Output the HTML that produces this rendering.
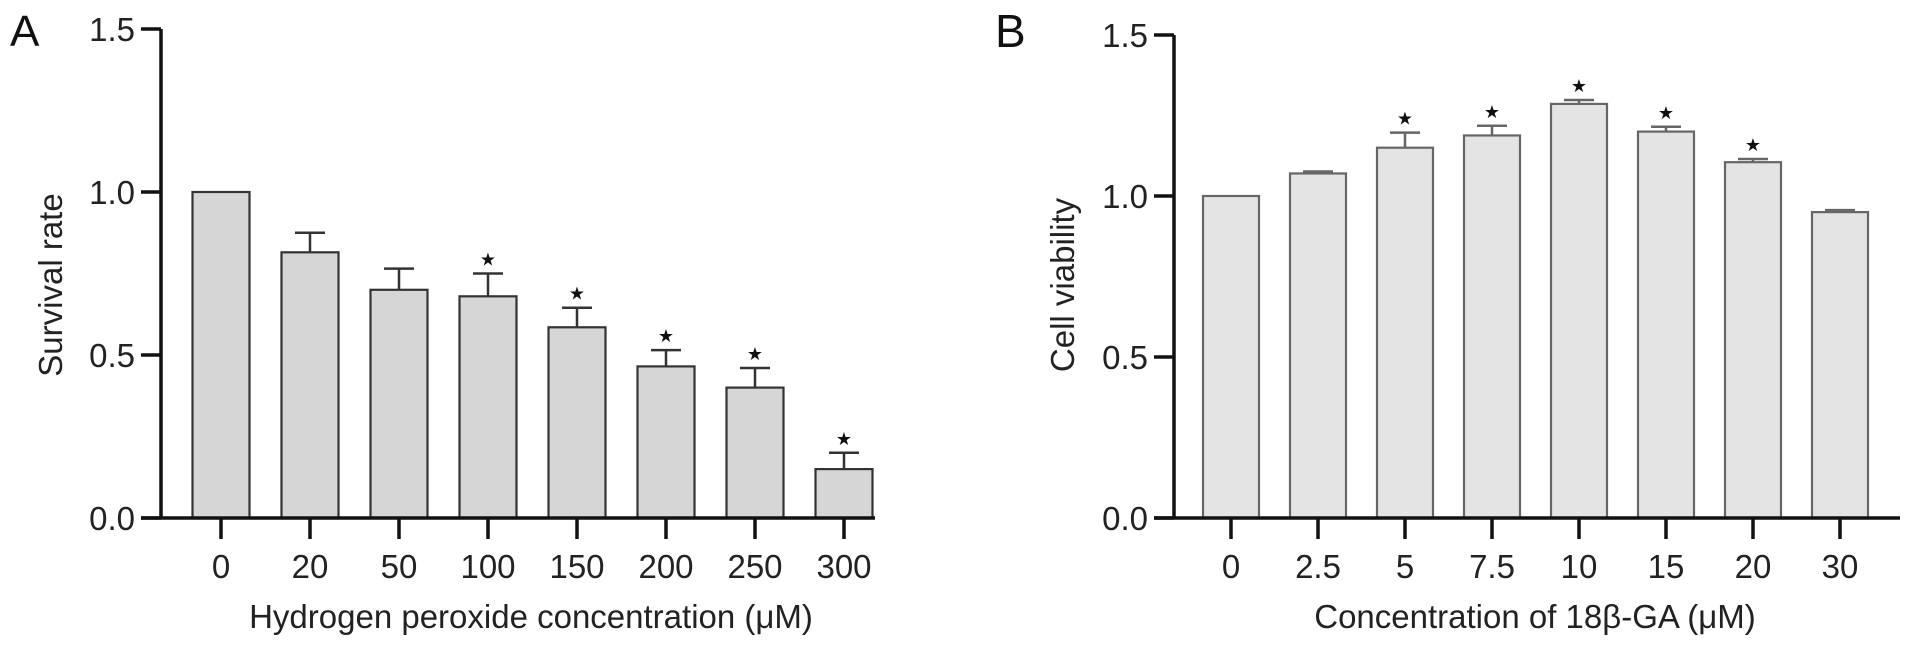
<!DOCTYPE html>
<html><head><meta charset="utf-8"><style>
html,body{margin:0;padding:0;background:#fff}
svg{display:block;font-family:"Liberation Sans",Arial,sans-serif}
</style></head><body>
<svg id="chart" width="1913" height="648" viewBox="0 0 1913 648" xmlns="http://www.w3.org/2000/svg">
<text x="10" y="46" font-size="44" fill="#111">A</text>
<text x="995" y="47" font-size="46" fill="#111">B</text>
<g id="pa"></g>
<g id="pb"></g>
</svg>
<script>
const catsA = ['0','20','50','100','150','200','250','300'];
const valsA = [1.0, 0.815, 0.70, 0.68, 0.585, 0.465, 0.40, 0.15];
const errA = [0, 0.06, 0.065, 0.07, 0.06, 0.05, 0.06, 0.05];
const sigA = [false,false,false,true,true,true,true,true];
const catsB = ['0','2.5','5','7.5','10','15','20','30'];
const valsB = [1.0, 1.07, 1.15, 1.188, 1.286, 1.20, 1.105, 0.95];
const errB = [0, 0.006, 0.047, 0.03, 0.012, 0.015, 0.01, 0.006];
const sigB = [false,false,true,true,true,true,true,false];
const yTicks = [0, 0.5, 1.0, 1.5];
const yTickLabels = ['0.0','0.5','1.0','1.5'];
const NS='http://www.w3.org/2000/svg';
function mk(p,t,a){const e=document.createElementNS(NS,t);for(const k in a)e.setAttribute(k,a[k]);p.appendChild(e);return e;}
function panel(g,cfg,cats,vals,errs,sig){
  const y=v=>cfg.base - v*cfg.scale;
  const x=i=>cfg.x0 + i*cfg.step;
  cats.forEach((c,i)=>{
    const cx=x(i), top=y(vals[i]);
    const r=mk(g,'rect',{x:cx-cfg.bw/2,y:top,width:cfg.bw,height:cfg.base-top,fill:cfg.fill,stroke:cfg.stroke,'stroke-width':2.2});
    
    
    if(errs[i]>0){
      const ye=y(vals[i]+errs[i]);
      const l=mk(g,'path',{d:`M${cx},${top} V${ye} M${cx-15},${ye} H${cx+15}`,stroke:cfg.stroke,'stroke-width':2.5,fill:'none'});
      
      
    }
    if(sig[i]){
      const s=mk(g,'text',{x:cx,y:y(vals[i]+errs[i])-8,'font-size':18,'text-anchor':'middle',fill:'#111'});
      s.textContent='★';
      
      
    }
    const t=mk(g,'path',{d:`M${cx},${cfg.base} V${cfg.base+21}`,stroke:'#111','stroke-width':3.5});
    
    
    const lb=mk(g,'text',{x:cx,y:cfg.base+60,'font-size':33,'text-anchor':'middle',fill:'#222'});
    lb.textContent=c;
    
    
  });
  yTicks.forEach((v,i)=>{
    const t=mk(g,'path',{d:`M${cfg.ax-20},${y(v)} H${cfg.ax}`,stroke:'#111','stroke-width':3.5});
    
    
    const lb=mk(g,'text',{x:cfg.ax-26,y:y(v)+12,'font-size':33,'text-anchor':'end',fill:'#222'});
    lb.textContent=yTickLabels[i];
    
    
  });
  const ya=mk(g,'path',{d:`M${cfg.ax},${y(1.5)} V${cfg.base}`,stroke:'#111','stroke-width':3.5});
  
  
  const xa=mk(g,'path',{d:`M${cfg.ax-20},${cfg.base} H${cfg.xend}`,stroke:'#111','stroke-width':3.5});
  
  
  const yt=mk(g,'text',{x:0,y:0,'font-size':33,'text-anchor':'middle',fill:'#222',transform:`translate(${cfg.ytx},285) rotate(-90)`});
  yt.textContent=cfg.ytitle;
  
  
  const xt=mk(g,'text',{x:cfg.xtx,y:628,'font-size':33,'text-anchor':'middle',fill:'#222'});
  xt.textContent=cfg.xtitle;
  
  
}
panel(document.getElementById('pa'),{base:518,scale:326,x0:221,step:89,bw:57,ax:161,xend:875,fill:'#d6d6d6',stroke:'#333',ytx:62,ytitle:'Survival rate',xtx:531,xtitle:'Hydrogen peroxide concentration (μM)'},catsA,valsA,errA,sigA);
panel(document.getElementById('pb'),{base:518,scale:322,x0:1231,step:87,bw:56,ax:1174,xend:1900,fill:'#e4e4e4',stroke:'#666',ytx:1074,ytitle:'Cell viability',xtx:1535,xtitle:'Concentration of 18β-GA (μM)'},catsB,valsB,errB,sigB);
</script>
</body></html>
